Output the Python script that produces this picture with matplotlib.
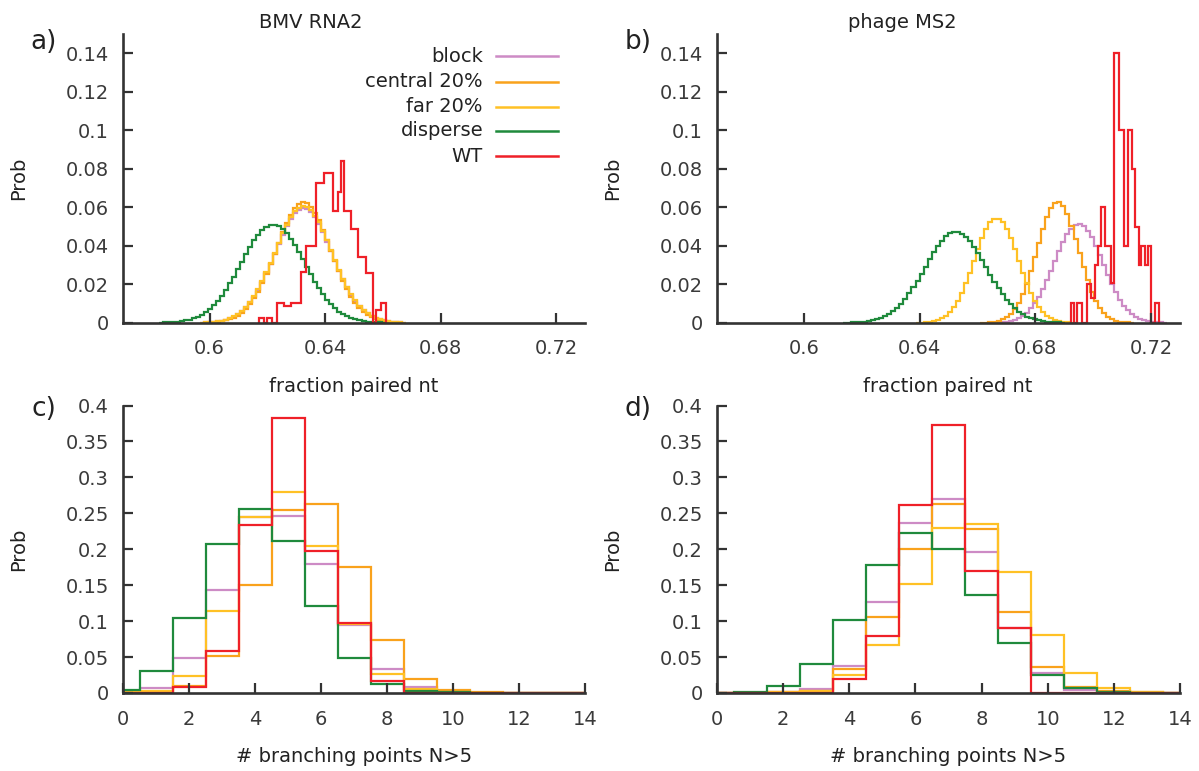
import numpy as np
import matplotlib
matplotlib.use('Agg')
import matplotlib.pyplot as plt
from matplotlib.lines import Line2D
from matplotlib.ticker import FuncFormatter

W, H = 1199, 771
BIN_W = 0.0014

# ---------------- data: fraction paired nt (panels a, b) ----------------
series_names = ["block", "central 20%", "far 20%", "disperse", "WT"]

# panel a (BMV RNA2)
a_block_start = 0.5966
a_block = [0.0001, 0.0002, 0.0003, 0.0004, 0.0007, 0.0010, 0.0015, 0.0022, 0.0032, 0.0044,
           0.0060, 0.0081, 0.0106, 0.0136, 0.0172, 0.0213, 0.0258, 0.0307, 0.0357, 0.0408,
           0.0457, 0.0501, 0.0539, 0.0568, 0.0587, 0.0595, 0.0591, 0.0575, 0.0548, 0.0513,
           0.0470, 0.0422, 0.0372, 0.0321, 0.0271, 0.0225, 0.0183, 0.0146, 0.0114, 0.0087,
           0.0065, 0.0048, 0.0035, 0.0025, 0.0017, 0.0012, 0.0008, 0.0005, 0.0003, 0.0002,
           0.0001]
a_central_start = 0.5980
a_central = [0.0001, 0.0002, 0.0003, 0.0005, 0.0008, 0.0012, 0.0018, 0.0026, 0.0037, 0.0052,
             0.0071, 0.0096, 0.0126, 0.0162, 0.0205, 0.0252, 0.0304, 0.0359, 0.0415, 0.0469,
             0.0519, 0.0562, 0.0595, 0.0616, 0.0625, 0.0620, 0.0602, 0.0572, 0.0532, 0.0484,
             0.0431, 0.0375, 0.0320, 0.0267, 0.0218, 0.0174, 0.0136, 0.0104, 0.0078, 0.0057,
             0.0041, 0.0029, 0.0020, 0.0013, 0.0009, 0.0006, 0.0003, 0.0002, 0.0001]
a_far_start = 0.5966
a_far = [0.0001, 0.0002, 0.0003, 0.0004, 0.0007, 0.0010, 0.0015, 0.0022, 0.0033, 0.0045,
         0.0061, 0.0082, 0.0108, 0.0138, 0.0175, 0.0217, 0.0262, 0.0312, 0.0363, 0.0415,
         0.0465, 0.0510, 0.0548, 0.0578, 0.0597, 0.0605, 0.0601, 0.0585, 0.0557, 0.0522,
         0.0478, 0.0429, 0.0378, 0.0326, 0.0276, 0.0229, 0.0186, 0.0148, 0.0116, 0.0088,
         0.0066, 0.0049, 0.0036, 0.0025, 0.0017, 0.0012, 0.0008, 0.0005, 0.0003, 0.0002,
         0.0001]
a_disperse_start = 0.5826
a_disperse = [0.0001, 0.0002, 0.0003, 0.0004, 0.0006, 0.0008, 0.0012, 0.0016, 0.0022, 0.0031,
              0.0041, 0.0054, 0.0070, 0.0090, 0.0113, 0.0140, 0.0170, 0.0204, 0.0240, 0.0279,
              0.0318, 0.0357, 0.0394, 0.0428, 0.0458, 0.0482, 0.0499, 0.0508, 0.0509, 0.0502,
              0.0488, 0.0465, 0.0437, 0.0404, 0.0368, 0.0329, 0.0290, 0.0251, 0.0214, 0.0179,
              0.0148, 0.0120, 0.0096, 0.0075, 0.0058, 0.0044, 0.0033, 0.0025, 0.0018, 0.0013,
              0.0009, 0.0006, 0.0004, 0.0003, 0.0002, 0.0001]
a_wt_edges = [0.6171, 0.6188, 0.6200, 0.6217, 0.6235, 0.6258, 0.6281, 0.6316, 0.6333, 0.6368,
              0.6397, 0.6426, 0.6443, 0.6455, 0.6466, 0.6490, 0.6513, 0.6542, 0.6565, 0.6577,
              0.6594, 0.6611]
a_wt = [0.0024, 0.0, 0.0024, 0.0, 0.0102, 0.0085, 0.0102, 0.0266, 0.0400, 0.0724,
        0.0780, 0.0580, 0.0680, 0.0840, 0.0580, 0.0486, 0.0340, 0.0260, 0.0, 0.0067,
        0.0102]

# panel b (phage MS2)
b_block_start = 0.6638
b_block = [0.0001, 0.0001, 0.0002, 0.0004, 0.0006, 0.0010, 0.0016, 0.0025, 0.0036, 0.0053,
           0.0074, 0.0102, 0.0135, 0.0175, 0.0220, 0.0270, 0.0321, 0.0372, 0.0419, 0.0459,
           0.0489, 0.0507, 0.0511, 0.0501, 0.0477, 0.0443, 0.0399, 0.0350, 0.0299, 0.0248,
           0.0200, 0.0157, 0.0120, 0.0089, 0.0064, 0.0045, 0.0031, 0.0020, 0.0013, 0.0008,
           0.0005, 0.0003, 0.0002, 0.0001]
b_central_start = 0.6610
b_central = [0.0001, 0.0001, 0.0003, 0.0005, 0.0010, 0.0017, 0.0028, 0.0045, 0.0070, 0.0103,
             0.0147, 0.0202, 0.0267, 0.0339, 0.0414, 0.0486, 0.0549, 0.0597, 0.0624, 0.0627,
             0.0607, 0.0565, 0.0505, 0.0435, 0.0360, 0.0287, 0.0220, 0.0162, 0.0115, 0.0078,
             0.0051, 0.0032, 0.0020, 0.0011, 0.0006, 0.0003, 0.0002, 0.0001]
b_far_start = 0.6386
b_far = [0.0001, 0.0001, 0.0003, 0.0005, 0.0008, 0.0014, 0.0023, 0.0036, 0.0054, 0.0080,
         0.0113, 0.0154, 0.0204, 0.0260, 0.0320, 0.0382, 0.0439, 0.0487, 0.0522, 0.0541,
         0.0541, 0.0522, 0.0487, 0.0439, 0.0382, 0.0320, 0.0260, 0.0204, 0.0154, 0.0113,
         0.0080, 0.0054, 0.0036, 0.0023, 0.0014, 0.0008, 0.0005, 0.0003, 0.0001, 0.0001]
b_disperse_start = 0.6134
b_disperse = [0.0001, 0.0001, 0.0002, 0.0003, 0.0004, 0.0006, 0.0009, 0.0012, 0.0018, 0.0024,
              0.0033, 0.0045, 0.0059, 0.0077, 0.0098, 0.0123, 0.0152, 0.0183, 0.0218, 0.0255,
              0.0292, 0.0330, 0.0366, 0.0399, 0.0427, 0.0449, 0.0465, 0.0472, 0.0472, 0.0463,
              0.0446, 0.0423, 0.0394, 0.0361, 0.0325, 0.0287, 0.0249, 0.0213, 0.0179, 0.0147,
              0.0119, 0.0095, 0.0074, 0.0057, 0.0043, 0.0032, 0.0023, 0.0017, 0.0012, 0.0008,
              0.0006, 0.0004, 0.0002, 0.0002, 0.0001]
b_wt_edges = [0.6922, 0.6935, 0.6945, 0.6961, 0.6979, 0.6993, 0.7005, 0.7018, 0.7028, 0.7042,
              0.7060, 0.7072, 0.7088, 0.7106, 0.7120, 0.7134, 0.7146, 0.7157, 0.7166, 0.7178,
              0.7189, 0.7201, 0.7212, 0.7226]
b_wt = [0.0101, 0.0, 0.0101, 0.0, 0.0201, 0.0130, 0.0300, 0.0398, 0.0600, 0.0398,
        0.0204, 0.1400, 0.1000, 0.0398, 0.1000, 0.0800, 0.0499, 0.0300, 0.0398, 0.0300,
        0.0398, 0.0, 0.0101]

# ---------------- data: # branching points (panels c, d) ----------------
branch_bins = list(range(15))
c_block = [0.001, 0.007, 0.049, 0.144, 0.245, 0.246, 0.180, 0.094, 0.034, 0.008, 0.001, 0, 0, 0, 0]
c_central = [0.0, 0.002, 0.010, 0.052, 0.150, 0.254, 0.263, 0.175, 0.074, 0.019, 0.004, 0.001, 0, 0, 0]
c_far = [0.001, 0.003, 0.024, 0.114, 0.245, 0.279, 0.205, 0.096, 0.027, 0.005, 0.001, 0, 0, 0, 0]
c_disperse = [0.004, 0.030, 0.105, 0.207, 0.256, 0.211, 0.121, 0.049, 0.013, 0.003, 0.001, 0, 0, 0, 0]
c_wt = [0.0, 0.0, 0.009, 0.059, 0.234, 0.382, 0.198, 0.097, 0.017, 0.0, 0.0, 0, 0, 0, 0]

d_block = [0, 0, 0.001, 0.006, 0.038, 0.127, 0.237, 0.270, 0.196, 0.090, 0.0275, 0.004, 0.001, 0, 0]
d_central = [0, 0, 0.001, 0.003, 0.034, 0.106, 0.201, 0.263, 0.228, 0.113, 0.036, 0.008, 0.003, 0.001, 0]
d_far = [0, 0, 0.001, 0.003, 0.025, 0.067, 0.152, 0.229, 0.2345, 0.168, 0.081, 0.028, 0.0075, 0.002, 0.0005]
d_disperse = [0, 0.001, 0.010, 0.040, 0.102, 0.178, 0.222, 0.201, 0.136, 0.070, 0.025, 0.0065, 0.001, 0, 0]
d_wt = [0, 0, 0, 0, 0.019, 0.080, 0.261, 0.3725, 0.170, 0.090, 0, 0, 0, 0, 0]

frac_ticks = [0.6, 0.64, 0.68, 0.72]
branch_ticks = [0, 2, 4, 6, 8, 10, 12, 14]

colors = {"block": "#cd8bc5", "central 20%": "#f9a21c", "far 20%": "#ffc125",
          "disperse": "#1f8a3c", "WT": "#ef2028"}

# ---------------- figure ----------------
plt.rcParams['font.family'] = ['DejaVu Sans']
fig = plt.figure(figsize=(W / 100, H / 100), dpi=100)


def add_ax(l, t, r, b):
    return fig.add_axes([l / W, 1 - b / H, (r - l) / W, (b - t) / H])


def style(ax):
    for s in ('top', 'right'):
        ax.spines[s].set_visible(False)
    for s in ('left', 'bottom'):
        ax.spines[s].set_linewidth(1.9)
        ax.spines[s].set_color('#333333')
    ax.tick_params(direction='in', length=7, width=1.6, color='#333333',
                   labelsize=14, labelcolor='#3a3a3a')
    ax.tick_params(axis='x', pad=12)
    ax.tick_params(axis='y', pad=10)
    ax.yaxis.set_major_formatter(FuncFormatter(lambda v, _: f'{v:g}'))
    ax.xaxis.set_major_formatter(FuncFormatter(lambda v, _: f'{v:g}'))


def edges_from(start, vals):
    return np.round(start + BIN_W * np.arange(len(vals) + 1), 6)


LW = 1.6
ax_a = add_ax(123, 34.1, 585, 322.7)
ax_b = add_ax(717, 34.1, 1180, 322.7)
ax_c = add_ax(123, 405.5, 585, 693)
ax_d = add_ax(717, 405.5, 1180, 693)

frac_sets = [
    (ax_a, [(a_block_start, a_block), (a_central_start, a_central), (a_far_start, a_far),
            (a_disperse_start, a_disperse)], (a_wt_edges, a_wt)),
    (ax_b, [(b_block_start, b_block), (b_central_start, b_central), (b_far_start, b_far),
            (b_disperse_start, b_disperse)], (b_wt_edges, b_wt)),
]
for ax, smooth, wt in frac_sets:
    for name, (start, vals) in zip(series_names[:4], smooth):
        ax.stairs(vals, edges_from(start, vals), baseline=0, fill=False,
                  color=colors[name], lw=LW)
    ax.stairs(wt[1], wt[0], baseline=0, fill=False, color=colors["WT"], lw=LW)
    ax.set_xlim(0.57, 0.73)
    ax.set_ylim(0, 0.15)
    ax.set_xticks(frac_ticks)
    ax.set_yticks(np.round(np.arange(0, 0.141, 0.02), 2))
    style(ax)

branch_edges = np.array(branch_bins + [branch_bins[-1] + 1]) - 0.5
for ax, sets in [(ax_c, [c_block, c_central, c_far, c_disperse, c_wt]),
                 (ax_d, [d_block, d_central, d_far, d_disperse, d_wt])]:
    for name, vals in zip(series_names, sets):
        ax.stairs(vals, branch_edges, baseline=0, fill=False, color=colors[name], lw=LW)
    ax.set_xlim(0, 14)
    ax.set_ylim(0, 0.4)
    ax.set_xticks(branch_ticks)
    ax.set_yticks(np.round(np.arange(0, 0.401, 0.05), 2))
    style(ax)


def ftext(x, y, s, **kw):
    fig.text(x / W, 1 - y / H, s, **kw)


txt = '#222222'
ftext(311, 22, 'BMV RNA2', ha='center', va='center', fontsize=14, color=txt)
ftext(902, 22, 'phage MS2', ha='center', va='center', fontsize=14, color=txt)
for x, y, s in [(44, 42, 'a)'), (638, 42, 'b)'), (44, 409, 'c)'), (638, 409, 'd)')]:
    ftext(x, y, s, ha='center', va='center', fontsize=19, color=txt)
for x, y in [(19, 178), (613, 178), (19, 549), (613, 549)]:
    ftext(x, y, 'Prob', ha='center', va='center', rotation=90, fontsize=14, color=txt)
for x in (354, 948):
    ftext(x, 386, 'fraction paired nt', ha='center', va='center', fontsize=14, color=txt)
    ftext(x, 757, '# branching points N>5', ha='center', va='center', fontsize=14, color=txt)

# legend (inside panel a)
for name, y in zip(series_names, [56, 81.5, 106.5, 131, 156]):
    ftext(483, y, name, ha='right', va='center', fontsize=14, color=txt)
    fig.add_artist(Line2D([496 / W, 558 / W], [1 - y / H, 1 - y / H],
                          transform=fig.transFigure, color=colors[name], lw=LW + 0.2))

fig.savefig('out.png', dpi=100)
